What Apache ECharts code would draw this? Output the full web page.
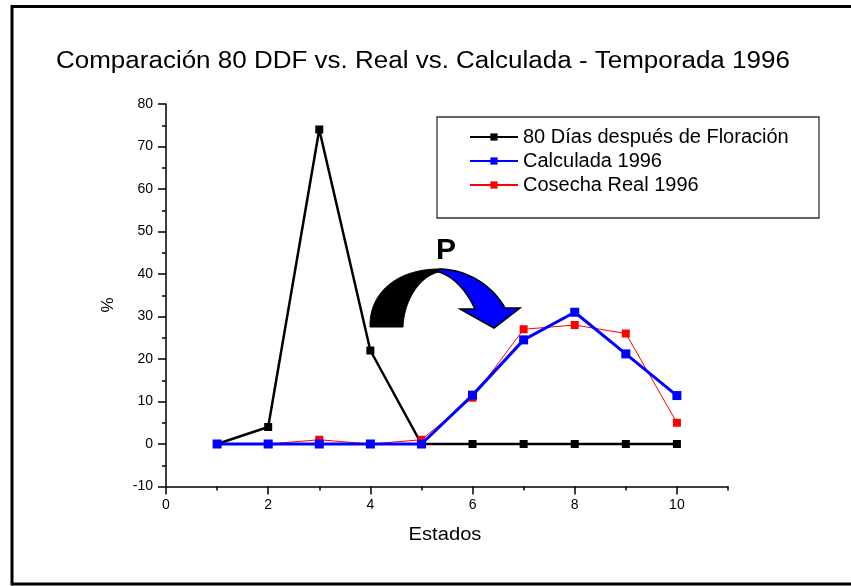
<!DOCTYPE html>
<html>
<head>
<meta charset="utf-8">
<script src="https://cdn.jsdelivr.net/npm/echarts@6/dist/echarts.min.js"></script>
<style>html,body{margin:0;padding:0;background:#fff}#c{width:851px;height:586px}</style>
</head>
<body>
<div id="c"></div>
<script>
const estados = [1, 2, 3, 4, 5, 6, 7, 8, 9, 10];
const ddf80 = [0, 4, 74, 22, 0, 0, 0, 0, 0, 0];
const calculada = [0, 0, 0, 0, 0, 11.5, 24.5, 31, 21.2, 11.4];
const real = [0, 0, 1, 0, 1, 10.9, 27, 28, 26, 5];
const seriesNames = ['80 Días después de Floración', 'Calculada 1996', 'Cosecha Real 1996'];
const xMajorTicks = [0, 2, 4, 6, 8, 10];
const titleText = 'Comparación 80 DDF vs. Real vs. Calculada - Temporada 1996';

const pairs = vals => estados.map((x, i) => [x, vals[i]]);
const FONT = 'Liberation Sans, Arial, sans-serif';

// decorative arrow outline: sample cubic bezier segments into polygon points
function bez(p0, p1, p2, p3, n) {
  const out = [];
  for (let i = 0; i <= n; i++) {
    const t = i / n, u = 1 - t;
    out.push([
      u*u*u*p0[0] + 3*u*u*t*p1[0] + 3*u*t*t*p2[0] + t*t*t*p3[0],
      u*u*u*p0[1] + 3*u*u*t*p1[1] + 3*u*t*t*p2[1] + t*t*t*p3[1]
    ]);
  }
  return out;
}
const blackArrow = [].concat(
  bez([370, 327], [369, 292], [398, 269], [439, 269], 24),
  bez([439, 272], [420, 276], [404, 300], [403, 327], 24)
);
const blueArrow = [].concat(
  bez([439, 269], [464, 269], [491, 283], [505, 308], 24),
  [[520, 308], [494, 328], [460, 309]],
  bez([475, 309], [467, 292], [455, 277], [439, 272], 24)
);

const chart = echarts.init(document.getElementById('c'), null, {renderer: 'canvas'});
chart.setOption({
  animation: false,
  backgroundColor: '#fff',
  grid: {left: 166, top: 104, right: 123, bottom: 99.5, containLabel: false},
  xAxis: [{
    type: 'value', min: 0, max: 11, interval: 2,
    axisLine: {onZero: false, lineStyle: {color: '#000', width: 1.5}},
    axisTick: {length: 8, lineStyle: {color: '#000', width: 1.5}, customValues: xMajorTicks},
    axisLabel: {color: '#000', fontSize: 14, fontFamily: FONT, margin: 12, showMaxLabel: false},
    splitLine: {show: false}
  }, {
    type: 'value', min: 0, max: 11, interval: 1, position: 'bottom',
    axisLine: {show: false, onZero: false},
    axisTick: {length: 4, lineStyle: {color: '#000', width: 1.5}},
    axisLabel: {show: false},
    splitLine: {show: false}
  }],
  yAxis: {
    type: 'value', min: -10, max: 80, interval: 10,
    axisLine: {show: true, lineStyle: {color: '#000', width: 1.5}},
    axisTick: {show: true, length: 8, lineStyle: {color: '#000', width: 1.5}},
    minorTick: {show: true, splitNumber: 2, length: 4, lineStyle: {color: '#000', width: 1.5}},
    axisLabel: {color: '#000', fontSize: 14, fontFamily: FONT, margin: 13},
    splitLine: {show: false}
  },
  legend: {
    data: seriesNames,
    orient: 'vertical', left: 469, top: 127,
    itemWidth: 48, itemHeight: 9, itemGap: 4, padding: 0,
    textStyle: {color: '#000', fontSize: 20, fontFamily: FONT}
  },
  series: [{
    name: seriesNames[0], type: 'line', data: pairs(ddf80), z: 2,
    symbol: 'rect', symbolSize: 8,
    lineStyle: {color: '#000', width: 2.5}, itemStyle: {color: '#000'}
  }, {
    name: seriesNames[1], type: 'line', data: pairs(calculada), z: 4,
    symbol: 'rect', symbolSize: 9,
    lineStyle: {color: '#0000ff', width: 3}, itemStyle: {color: '#0000ff'}
  }, {
    name: seriesNames[2], type: 'line', data: pairs(real), z: 3,
    symbol: 'rect', symbolSize: 8,
    lineStyle: {color: '#ff0000', width: 1}, itemStyle: {color: '#ff0000'}
  }],
  graphic: [
    {type: 'line', shape: {x1: 12, y1: 6.5, x2: 851, y2: 6.5}, style: {stroke: '#000', lineWidth: 3}},
    {type: 'line', shape: {x1: 12, y1: 5, x2: 12, y2: 585.5}, style: {stroke: '#000', lineWidth: 3}},
    {type: 'line', shape: {x1: 12, y1: 584, x2: 851, y2: 584}, style: {stroke: '#000', lineWidth: 3}},
    {type: 'text', x: 56, y: 62, scaleX: 1.13,
      style: {text: titleText, fontSize: 23, fontFamily: FONT, fill: '#000', align: 'left', verticalAlign: 'middle'}},
    {type: 'rect', shape: {x: 437, y: 117, width: 382, height: 101},
      style: {fill: 'none', stroke: '#333', lineWidth: 1.3}, z: 0},
    {type: 'text', x: 445, y: 535, scaleX: 1.12,
      style: {text: 'Estados', fontSize: 18, fontFamily: FONT, fill: '#000', align: 'center', verticalAlign: 'middle'}},
    {type: 'text', x: 108, y: 305, rotation: Math.PI / 2,
      style: {text: '%', fontSize: 17, fontFamily: FONT, fill: '#000', align: 'center', verticalAlign: 'middle'}},
    {type: 'polygon', shape: {points: blackArrow},
      style: {fill: '#000', stroke: '#000', lineWidth: 1}},
    {type: 'polygon', shape: {points: blueArrow},
      style: {fill: '#0000ff', stroke: '#000', lineWidth: 1.5}},
    {type: 'text', x: 446, y: 251,
      style: {text: 'P', fontSize: 30, fontWeight: 'bold', fontFamily: FONT, fill: '#000', align: 'center', verticalAlign: 'middle'}}
  ]
});
</script>
</body>
</html>
